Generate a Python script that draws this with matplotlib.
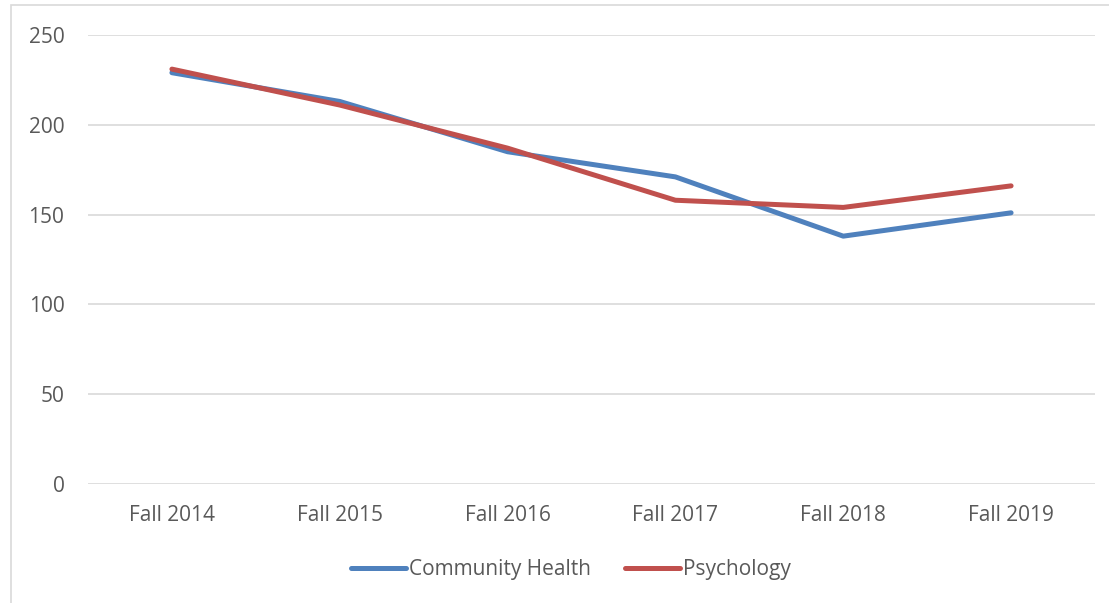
import matplotlib.pyplot as plt
from matplotlib.patches import Rectangle

terms = ['Fall 2014', 'Fall 2015', 'Fall 2016', 'Fall 2017', 'Fall 2018', 'Fall 2019']
community_health = [229, 213, 185, 171, 138, 151]
psychology = [231, 211, 187, 158, 154, 166]

plt.rcParams['font.family'] = ['Open Sans', 'DejaVu Sans']
text_color = '#595959'

fig = plt.figure(figsize=(11.09, 6.03), dpi=100)
ax = fig.add_axes([88 / 1109, 1 - 484 / 603, (1095 - 88) / 1109, (484 - 35) / 603])

x = range(len(terms))
ax.plot(x, community_health, color='#4F81BD', linewidth=3.6, solid_capstyle='round',
        solid_joinstyle='round', label='Community Health')
ax.plot(x, psychology, color='#C0504D', linewidth=3.6, solid_capstyle='round',
        solid_joinstyle='round', label='Psychology')

ax.set_xlim(-0.5, len(terms) - 0.5)
ax.set_ylim(0, 250)
ax.set_yticks(range(0, 251, 50))
ax.set_xticks(list(x))
ax.set_xticklabels(terms)
ax.grid(axis='y', color='#D9D9D9', linewidth=1.2)
ax.set_axisbelow(True)
for s in ax.spines.values():
    s.set_visible(False)
ax.tick_params(length=0, labelsize=15, colors=text_color)
ax.tick_params(axis='x', pad=15)
ax.tick_params(axis='y', pad=17)

leg = fig.legend(loc='center', bbox_to_anchor=(571 / 1109, 1 - 570 / 603), ncol=2,
                 frameon=False, fontsize=15, handlelength=2.65, handletextpad=0.15,
                 columnspacing=1.6)
for t in leg.get_texts():
    t.set_color(text_color)

# chart area border (cut off at right and bottom)
fig.add_artist(Rectangle((11 / 1109, -0.1), 1.2, 1 - 5 / 603 + 0.1, fill=False,
                         edgecolor='#D9D9D9', linewidth=1.2, transform=fig.transFigure))

fig.savefig('out.png', dpi=100)
